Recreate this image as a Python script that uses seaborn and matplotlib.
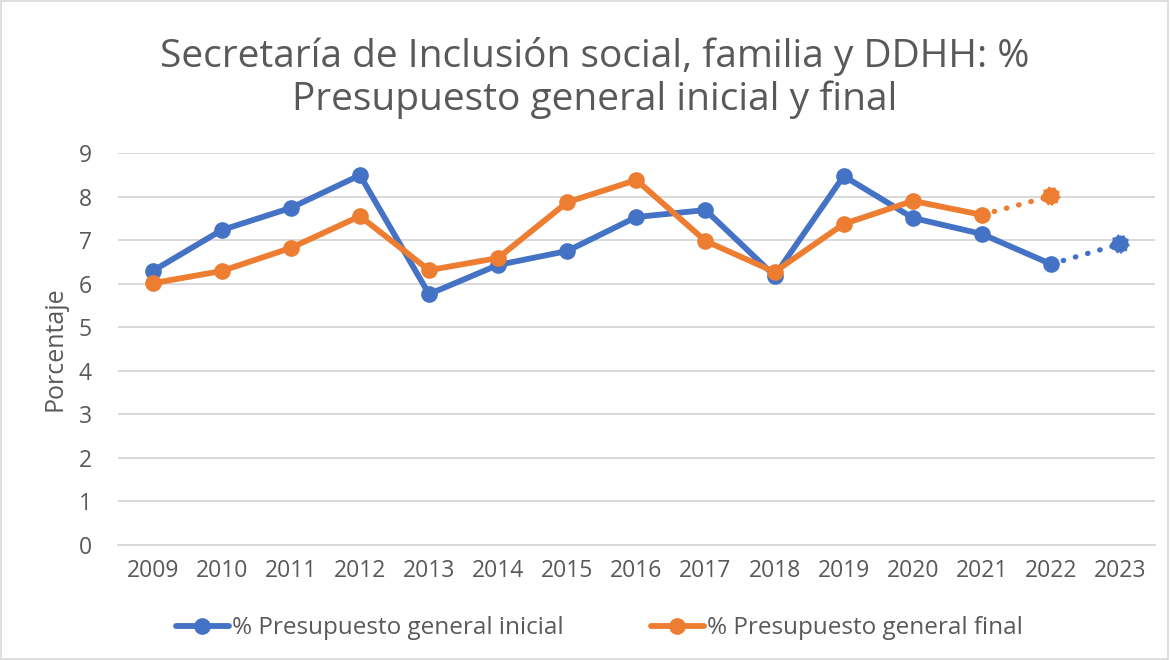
import pandas as pd
import seaborn as sns
import matplotlib.pyplot as plt
from matplotlib.lines import Line2D
from matplotlib.patches import Rectangle

years = ["2009", "2010", "2011", "2012", "2013", "2014", "2015", "2016",
         "2017", "2018", "2019", "2020", "2021", "2022", "2023"]
inicial = [6.29, 7.23, 7.74, 8.49, 5.76, 6.43, 6.75, 7.53, 7.69, 6.18,
           8.47, 7.51, 7.14, 6.45, 6.91]
final = [6.01, 6.29, 6.82, 7.55, 6.31, 6.59, 7.87, 8.38, 6.98, 6.27,
         7.37, 7.90, 7.58, 8.01]

label_ini = "% Presupuesto general inicial"
label_fin = "% Presupuesto general final"
BLUE = "#4472C4"
ORANGE = "#ED7D31"
GRAY = "#595959"

sns.set_style("white")
plt.rcParams["font.family"] = ["Open Sans", "DejaVu Sans"]


def draw_series(ax, values, color, label):
    x = list(range(len(values)))
    df = pd.DataFrame({"x": x, "y": values})
    solid = df.iloc[:-1]
    dotted = df.iloc[-2:]
    sns.lineplot(data=solid, x="x", y="y", color=color, lw=4.2,
                 marker="o", markersize=12, markeredgewidth=0, ax=ax,
                 label=label)
    sns.lineplot(data=dotted, x="x", y="y", color=color, lw=3.8,
                 linestyle=(0, (0.1, 2.3)), dash_capstyle="round",
                 ax=ax, label="_nolegend_")
    last = dotted.iloc[-1]
    ax.scatter([last["x"]], [last["y"]], s=150, color=color,
               edgecolor=color, linewidths=1.5, linestyle=":", zorder=5)


fig = plt.figure(figsize=(11.7, 6.6), dpi=100)
ax = fig.add_axes([0.1009, 0.1742, 0.886, 0.594])

draw_series(ax, inicial, BLUE, label_ini)
draw_series(ax, final, ORANGE, label_fin)

ax.set_xlim(-0.5, len(years) - 0.5)
ax.set_ylim(0, 9)
ax.set_xticks(range(len(years)))
ax.set_xticklabels(years)
ax.set_yticks(range(0, 10))
ax.tick_params(axis="both", labelsize=16.5, colors=GRAY, length=0)
ax.tick_params(axis="x", pad=10)
ax.tick_params(axis="y", pad=19)
ax.yaxis.grid(True, color="#D9D9D9", lw=1.4)
ax.set_axisbelow(True)
for s in ["top", "right", "left"]:
    ax.spines[s].set_visible(False)
ax.spines["bottom"].set_color("#D9D9D9")
ax.spines["bottom"].set_linewidth(1.4)

ax.set_xlabel("")
ax.set_ylabel("Porcentaje", fontsize=18, color=GRAY, labelpad=8)

fig.text(0.508, 0.882,
         "Secretaría de Inclusión social, familia y DDHH: %\nPresupuesto general inicial y final",
         ha="center", va="center", fontsize=28, color=GRAY, linespacing=1.14)

handles = [Line2D([], [], color=BLUE, lw=4.2, marker="o", markersize=11),
           Line2D([], [], color=ORANGE, lw=4.2, marker="o", markersize=11)]
ax.legend(handles, [label_ini, label_fin], loc="center",
          bbox_to_anchor=(0.512, 0.048), bbox_transform=fig.transFigure,
          ncol=2, frameon=False, fontsize=17.5, labelcolor=GRAY,
          handlelength=2.2, handletextpad=0.1, columnspacing=3.6)

fig.add_artist(Rectangle((0.001, 0.001), 0.997, 0.997, transform=fig.transFigure,
                         fill=False, edgecolor="#D9D9D9", lw=1.2))

fig.savefig("out.png", dpi=100)
